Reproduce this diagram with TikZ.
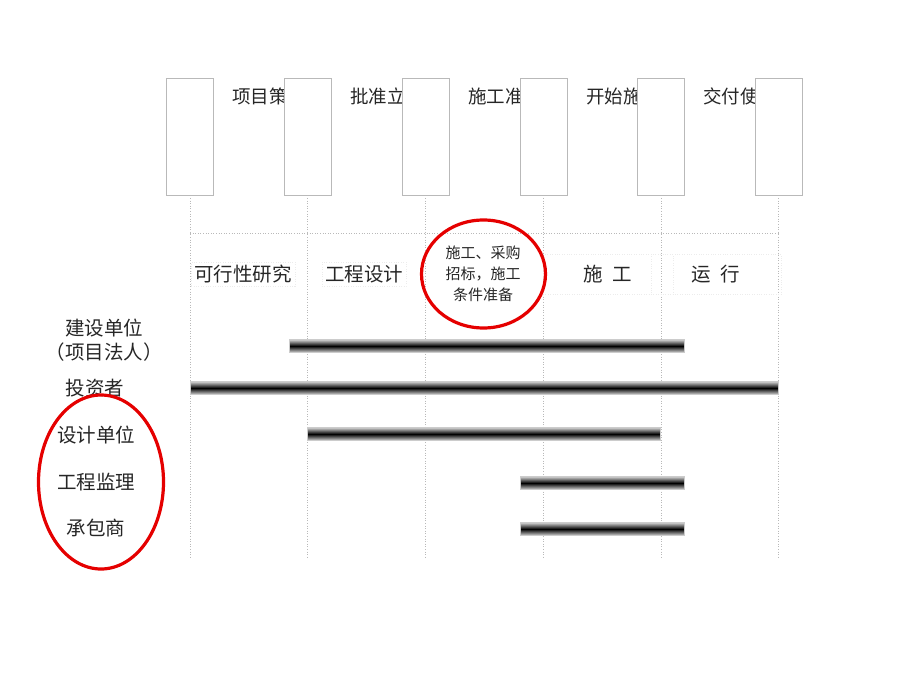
\documentclass[tikz,border=0pt]{standalone}
\usepackage{fontspec}
\setmainfont{Noto Sans CJK SC}
\usetikzlibrary{shapes.geometric}
\begin{document}
\begin{tikzpicture}[x=1pt,y=-1pt,
  topbox/.style={draw=gray!55,line width=0.6pt,fill=white,minimum width=47pt,minimum height=117pt,inner sep=0pt},
  toplabel/.style={anchor=west,inner sep=0pt,font=\fontsize{18.5}{20}\selectfont,text=black!85},
  vline/.style={draw=gray!55,dotted,line width=0.6pt},
  phase/.style={font=\fontsize{19.5}{22}\selectfont,inner sep=3pt,draw=gray!15,dotted,text=black!85},
  who/.style={font=\fontsize{19.5}{24}\selectfont,align=center,inner sep=3pt,text=black!85},
  bar/.style={draw=gray!40,line width=0.5pt,top color=gray!35,bottom color=gray!35,middle color=black,minimum height=13pt,inner sep=0pt},
  redring/.style={draw=red!90!black,line width=3.2pt}
]
\useasboundingbox (0,0) rectangle (920,690);
% top labels (partly hidden by boxes)
\node[toplabel] (t1) at (232,96) {项目策划};
\node[toplabel] (t2) at (350,96) {批准立项};
\node[toplabel] (t3) at (468,96) {施工准备};
\node[toplabel] (t4) at (586,96) {开始施工};
\node[toplabel] (t5) at (703,96) {交付使用};
% top boxes
\node[topbox] (b1) at (190,136.5) {};
\node[topbox] (b2) at (307.5,136.5) {};
\node[topbox] (b3) at (425.5,136.5) {};
\node[topbox] (b4) at (543.5,136.5) {};
\node[topbox] (b5) at (661,136.5) {};
\node[topbox] (b6) at (778.5,136.5) {};
% guide lines
\coordinate (e1) at (190,558);
\coordinate (e2) at (307.5,558);
\coordinate (e3) at (425.5,558);
\coordinate (e4) at (543.5,558);
\coordinate (e5) at (661,558);
\coordinate (e6) at (778.5,558);
\draw[vline] (b1.south) -- (e1);
\draw[vline] (b2.south) -- (e2);
\draw[vline] (b3.south) -- (e3);
\draw[vline] (b4.south) -- (e4);
\draw[vline] (b5.south) -- (e5);
\draw[vline] (b6.south) -- (e6);
\coordinate (h1) at (190,233);
\coordinate (h2) at (778.5,233);
\draw[vline] (h1) -- (h2);
% phases
\node[phase] (p1) at (243,274) {可行性研究};
\node[phase] (p2) at (364,274) {工程设计};
\node[font=\fontsize{15}{21}\selectfont,align=center,inner sep=0pt,text=black!85] (p3) at (483,274) {施工、采购\\招标，施工\\条件准备};
\node[phase,minimum width=130pt,minimum height=40pt] (p4) at (608,274) {施\hspace{0.5em}工};
\node[phase,minimum width=130pt,minimum height=40pt] (p5) at (716,274) {运\hspace{0.5em}行};
% participants
\node[who] (w1) at (104,340) {建设单位\\（项目法人）};
\node[who] (w2) at (95,388) {投资者};
\node[who] (w3) at (96,435) {设计单位};
\node[who] (w4) at (96,482) {工程监理};
\node[who] (w5) at (96,528) {承包商};
% bars
\node[bar,minimum width=395pt] (r1) at (486.5,346) {};
\node[bar,minimum width=588pt] (r2) at (484,388) {};
\node[bar,minimum width=353pt] (r3) at (483.5,434) {};
\node[bar,minimum width=164pt] (r4) at (602,483) {};
\node[bar,minimum width=164pt] (r5) at (602,529) {};
% red rings
\node[redring,ellipse,minimum width=124pt,minimum height=108pt,inner sep=0pt] (c1) at (483.5,274) {};
\node[redring,ellipse,minimum width=125pt,minimum height=174pt,inner sep=0pt] (c2) at (101,482) {};
\end{tikzpicture}
\end{document}
